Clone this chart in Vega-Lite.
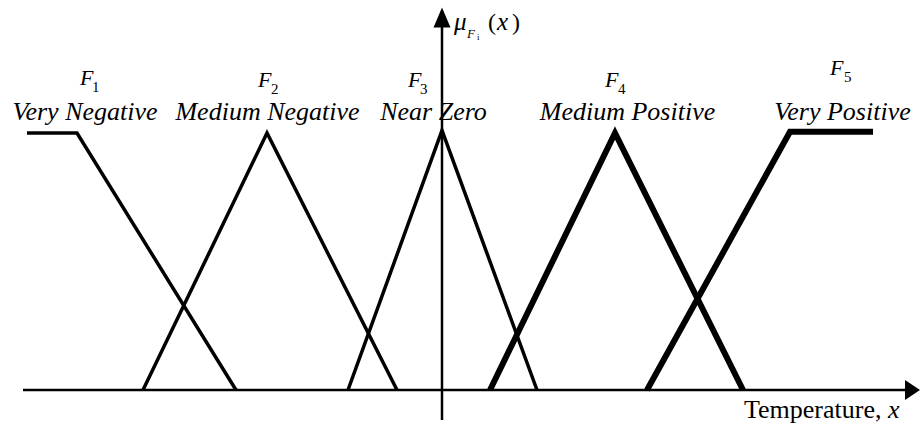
{
  "$schema": "https://vega.github.io/schema/vega-lite/v6.json",
  "width": 922,
  "height": 432,
  "autosize": {"type": "fit", "contains": "padding"},
  "padding": 0,
  "background": "white",
  "config": {"view": {"stroke": null}},
  "datasets": {
    "mf": [
      {"series": "F1", "weight": "thin", "idx": 0, "x": -415, "mu": 1},
      {"series": "F1", "weight": "thin", "idx": 1, "x": -365, "mu": 1},
      {"series": "F1", "weight": "thin", "idx": 2, "x": -206, "mu": 0},
      {"series": "F2", "weight": "thin", "idx": 0, "x": -299, "mu": 0},
      {"series": "F2", "weight": "thin", "idx": 1, "x": -175, "mu": 1},
      {"series": "F2", "weight": "thin", "idx": 2, "x": -45, "mu": 0},
      {"series": "F3", "weight": "thin", "idx": 0, "x": -94, "mu": 0},
      {"series": "F3", "weight": "thin", "idx": 1, "x": 0, "mu": 1.01},
      {"series": "F3", "weight": "thin", "idx": 2, "x": 95, "mu": 0},
      {"series": "F4", "weight": "thick", "idx": 0, "x": 48, "mu": 0},
      {"series": "F4", "weight": "thick", "idx": 1, "x": 173, "mu": 1},
      {"series": "F4", "weight": "thick", "idx": 2, "x": 301, "mu": 0},
      {"series": "F5", "weight": "thick", "idx": 0, "x": 205, "mu": 0},
      {"series": "F5", "weight": "thick", "idx": 1, "x": 348, "mu": 1.005},
      {"series": "F5", "weight": "thick", "idx": 2, "x": 431, "mu": 1.005}
    ],
    "axes": [
      {"axis": "x", "x": -419, "x2": 463, "y": 0, "y2": 0},
      {"axis": "y", "x": 0, "x2": 0, "y": -0.117, "y2": 1.412}
    ],
    "arrows": [
      {"axis": "x", "x": 470.5, "y": 0},
      {"axis": "y", "x": 0, "y": 1.449}
    ],
    "labels": [
      {"kind": "F", "text": "F", "x": -362, "y": 1.187},
      {"kind": "F", "text": "F", "x": -184, "y": 1.179},
      {"kind": "F", "text": "F", "x": -34, "y": 1.179},
      {"kind": "F", "text": "F", "x": 163, "y": 1.179},
      {"kind": "F", "text": "F", "x": 388, "y": 1.226},
      {"kind": "sub", "text": "1", "x": -350, "y": 1.16},
      {"kind": "sub", "text": "2", "x": -171, "y": 1.152},
      {"kind": "sub", "text": "3", "x": -22, "y": 1.152},
      {"kind": "sub", "text": "4", "x": 176, "y": 1.152},
      {"kind": "sub", "text": "5", "x": 402, "y": 1.198},
      {"kind": "name", "text": "Very Negative", "x": -357, "y": 1.051},
      {"kind": "name", "text": "Medium Negative", "x": -174.5, "y": 1.051},
      {"kind": "name", "text": "Near Zero", "x": -8.5, "y": 1.051},
      {"kind": "name", "text": "Medium Positive", "x": 185.5, "y": 1.051},
      {"kind": "name", "text": "Very Positive", "x": 400.5, "y": 1.051},
      {"kind": "muItalic", "text": "μ", "x": 12, "y": 1.4},
      {"kind": "muSubF", "text": "F", "x": 25, "y": 1.37},
      {"kind": "muSubI", "text": "i", "x": 35, "y": 1.362},
      {"kind": "paren", "text": "(", "x": 46, "y": 1.4},
      {"kind": "muItalic", "text": "x", "x": 55, "y": 1.4},
      {"kind": "paren", "text": ")", "x": 70, "y": 1.4},
      {"kind": "axisTitle", "text": "Temperature,", "x": 302, "y": -0.109},
      {"kind": "axisTitleX", "text": "x", "x": 446, "y": -0.109}
    ]
  },
  "layer": [
    {
      "data": {"name": "axes"},
      "mark": {"type": "rule", "color": "black", "strokeWidth": 2.5},
      "encoding": {
        "x": {"field": "x", "type": "quantitative", "scale": {"domain": [-442, 480], "nice": false, "zero": false}, "axis": null},
        "x2": {"field": "x2"},
        "y": {"field": "y", "type": "quantitative", "scale": {"domain": [-0.1634, 1.5175], "nice": false, "zero": false}, "axis": null},
        "y2": {"field": "y2"}
      }
    },
    {
      "data": {"name": "mf"},
      "transform": [{"filter": "datum.weight === 'thin'"}],
      "mark": {"type": "line", "color": "black", "strokeWidth": 3.5, "strokeJoin": "miter", "strokeCap": "butt"},
      "encoding": {
        "x": {"field": "x", "type": "quantitative"},
        "y": {"field": "mu", "type": "quantitative"},
        "detail": {"field": "series"},
        "order": {"field": "idx"}
      }
    },
    {
      "data": {"name": "mf"},
      "transform": [{"filter": "datum.weight === 'thick'"}],
      "mark": {"type": "line", "color": "black", "strokeWidth": 6, "strokeJoin": "miter", "strokeCap": "butt"},
      "encoding": {
        "x": {"field": "x", "type": "quantitative"},
        "y": {"field": "mu", "type": "quantitative"},
        "detail": {"field": "series"},
        "order": {"field": "idx"}
      }
    },
    {
      "data": {"name": "arrows"},
      "transform": [{"filter": "datum.axis === 'x'"}],
      "mark": {"type": "point", "shape": "M-0.75,-1L0.75,0L-0.75,1Z", "filled": true, "color": "black", "opacity": 1, "size": 400},
      "encoding": {
        "x": {"field": "x", "type": "quantitative"},
        "y": {"field": "y", "type": "quantitative"}
      }
    },
    {
      "data": {"name": "arrows"},
      "transform": [{"filter": "datum.axis === 'y'"}],
      "mark": {"type": "point", "shape": "M0,-1L0.85,1L-0.85,1Z", "filled": true, "color": "black", "opacity": 1, "size": 400},
      "encoding": {
        "x": {"field": "x", "type": "quantitative"},
        "y": {"field": "y", "type": "quantitative"}
      }
    },
    {
      "data": {"name": "labels"},
      "transform": [{"filter": "datum.kind === 'F'"}],
      "mark": {"type": "text", "font": "Liberation Serif", "fontStyle": "italic", "fontSize": 22, "align": "left", "baseline": "alphabetic", "color": "black"},
      "encoding": {
        "x": {"field": "x", "type": "quantitative"},
        "y": {"field": "y", "type": "quantitative"},
        "text": {"field": "text"}
      }
    },
    {
      "data": {"name": "labels"},
      "transform": [{"filter": "datum.kind === 'sub'"}],
      "mark": {"type": "text", "font": "Liberation Serif", "fontSize": 15, "align": "left", "baseline": "alphabetic", "color": "black"},
      "encoding": {
        "x": {"field": "x", "type": "quantitative"},
        "y": {"field": "y", "type": "quantitative"},
        "text": {"field": "text"}
      }
    },
    {
      "data": {"name": "labels"},
      "transform": [{"filter": "datum.kind === 'name'"}],
      "mark": {"type": "text", "font": "Liberation Serif", "fontStyle": "italic", "fontSize": 26, "align": "center", "baseline": "alphabetic", "color": "black"},
      "encoding": {
        "x": {"field": "x", "type": "quantitative"},
        "y": {"field": "y", "type": "quantitative"},
        "text": {"field": "text"}
      }
    },
    {
      "data": {"name": "labels"},
      "transform": [{"filter": "datum.kind === 'muItalic'"}],
      "mark": {"type": "text", "font": "Liberation Serif", "fontStyle": "italic", "fontSize": 25, "align": "left", "baseline": "alphabetic", "color": "black"},
      "encoding": {
        "x": {"field": "x", "type": "quantitative"},
        "y": {"field": "y", "type": "quantitative"},
        "text": {"field": "text"}
      }
    },
    {
      "data": {"name": "labels"},
      "transform": [{"filter": "datum.kind === 'muSubF'"}],
      "mark": {"type": "text", "font": "Liberation Serif", "fontStyle": "italic", "fontSize": 13, "align": "left", "baseline": "alphabetic", "color": "black"},
      "encoding": {
        "x": {"field": "x", "type": "quantitative"},
        "y": {"field": "y", "type": "quantitative"},
        "text": {"field": "text"}
      }
    },
    {
      "data": {"name": "labels"},
      "transform": [{"filter": "datum.kind === 'muSubI'"}],
      "mark": {"type": "text", "font": "Liberation Serif", "fontSize": 9, "align": "left", "baseline": "alphabetic", "color": "black"},
      "encoding": {
        "x": {"field": "x", "type": "quantitative"},
        "y": {"field": "y", "type": "quantitative"},
        "text": {"field": "text"}
      }
    },
    {
      "data": {"name": "labels"},
      "transform": [{"filter": "datum.kind === 'paren'"}],
      "mark": {"type": "text", "font": "Liberation Serif", "fontSize": 24, "align": "left", "baseline": "alphabetic", "color": "black"},
      "encoding": {
        "x": {"field": "x", "type": "quantitative"},
        "y": {"field": "y", "type": "quantitative"},
        "text": {"field": "text"}
      }
    },
    {
      "data": {"name": "labels"},
      "transform": [{"filter": "datum.kind === 'axisTitle'"}],
      "mark": {"type": "text", "font": "Liberation Serif", "fontSize": 26, "align": "left", "baseline": "alphabetic", "color": "black"},
      "encoding": {
        "x": {"field": "x", "type": "quantitative"},
        "y": {"field": "y", "type": "quantitative"},
        "text": {"field": "text"}
      }
    },
    {
      "data": {"name": "labels"},
      "transform": [{"filter": "datum.kind === 'axisTitleX'"}],
      "mark": {"type": "text", "font": "Liberation Serif", "fontStyle": "italic", "fontSize": 26, "align": "left", "baseline": "alphabetic", "color": "black"},
      "encoding": {
        "x": {"field": "x", "type": "quantitative"},
        "y": {"field": "y", "type": "quantitative"},
        "text": {"field": "text"}
      }
    }
  ]
}
